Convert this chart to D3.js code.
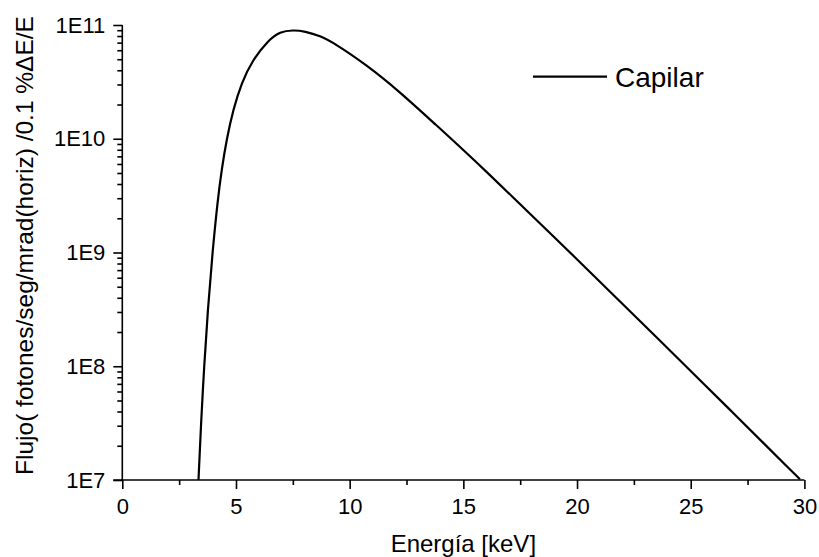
<!DOCTYPE html>
<html>
<head>
<meta charset="utf-8">
<script src="https://cdn.jsdelivr.net/npm/d3@7"></script>
<style>
  html, body { margin: 0; padding: 0; background: #fff; }
  svg { display: block; }
  text { font-family: "Liberation Sans", Arial, sans-serif; fill: #000; }
</style>
</head>
<body>
<svg id="chart" width="819" height="557"></svg>
<script>
// ---- data ----
const energy = [3.351, 3.470, 3.598, 3.760, 3.963, 4.196, 4.367, 4.592, 4.873, 5.243, 5.726, 6.430, 6.936, 7.508, 8.035, 8.695, 9.355, 10.749, 12.213, 13.678, 15.732, 20.130, 23.649, 26.582, 29.806];
const logFlux = [7.0, 7.527, 7.993, 8.495, 8.996, 9.462, 9.725, 9.998, 10.253, 10.490, 10.692, 10.868, 10.941, 10.956, 10.945, 10.905, 10.837, 10.648, 10.411, 10.143, 9.769, 8.916, 8.226, 7.646, 7.006];
const flux = logFlux.map(v => Math.pow(10, v));
const seriesName = "Capilar";
const xTicks = [0, 5, 10, 15, 20, 25, 30];
const xMinorTicks = [2.5, 7.5, 12.5, 17.5, 22.5, 27.5];
const yTicks = [1e7, 1e8, 1e9, 1e10, 1e11];
const yTickLabels = ["1E7", "1E8", "1E9", "1E10", "1E11"];
const xTitle = "Energía [keV]";
const yTitle = "Flujo( fotones/seg/mrad(horiz) /0.1 %ΔE/E";

// ---- layout ----
const svg = d3.select("#chart");
const mLeft = 122.3, mRight = 804.4, mTop = 25, mBottom = 480;

const x = d3.scaleLinear().domain([0, 30]).range([mLeft, mRight]);
const y = d3.scaleLog().domain([1e7, 1e11]).range([mBottom, mTop]);

const yMinor = [];
for (let e = 7; e < 11; e++) for (let m = 2; m <= 9; m++) yMinor.push(m * Math.pow(10, e));

const axisStroke = 1.6;

// X axis major
const gx = svg.append("g").attr("transform", `translate(0,${mBottom})`)
  .call(d3.axisBottom(x).tickValues(xTicks).tickSize(9).tickSizeOuter(0).tickPadding(9.5)
    .tickFormat(d3.format("d")));
gx.select(".domain").attr("stroke-width", axisStroke).attr("d", `M${mLeft - 9},0H${mRight}`);
gx.selectAll(".tick line").attr("stroke-width", axisStroke);
gx.selectAll(".tick text").attr("font-size", 22).attr("font-family", "Liberation Sans, Arial, sans-serif");
// X axis minor
svg.append("g").attr("transform", `translate(0,${mBottom})`)
  .call(d3.axisBottom(x).tickValues(xMinorTicks).tickSize(5).tickSizeOuter(0).tickFormat(""))
  .call(g => g.select(".domain").remove())
  .selectAll(".tick line").attr("stroke-width", axisStroke);

// Y axis major
const gy = svg.append("g").attr("transform", `translate(${mLeft},0)`)
  .call(d3.axisLeft(y).tickValues(yTicks).tickSize(9).tickSizeOuter(0).tickPadding(8)
    .tickFormat((d, i) => yTickLabels[i]));
gy.select(".domain").attr("stroke-width", axisStroke).attr("d", `M0,${mBottom}V${mTop}`);
gy.selectAll(".tick line").attr("stroke-width", axisStroke);
gy.selectAll(".tick text").attr("font-size", 22).attr("font-family", "Liberation Sans, Arial, sans-serif");
// Y axis minor
svg.append("g").attr("transform", `translate(${mLeft},0)`)
  .call(d3.axisLeft(y).tickValues(yMinor).tickSize(5).tickSizeOuter(0).tickFormat(""))
  .call(g => g.select(".domain").remove())
  .selectAll(".tick line").attr("stroke-width", axisStroke);

// curve
const pts = energy.map((e, i) => [e, flux[i]]);
svg.append("path")
  .datum(pts)
  .attr("fill", "none")
  .attr("stroke", "#000")
  .attr("stroke-width", 2.2)
  .attr("stroke-linejoin", "round")
  .attr("d", d3.line().x(d => x(d[0])).y(d => y(d[1])).curve(d3.curveBasis));

// axis titles
svg.append("text")
  .attr("x", (mLeft + mRight) / 2).attr("y", 552)
  .attr("text-anchor", "middle").attr("font-size", 24)
  .text(xTitle);
svg.append("text")
  .attr("transform", `translate(33,245.5) rotate(-90)`)
  .attr("text-anchor", "middle").attr("font-size", 24.5)
  .text(yTitle);

// legend
const lg = svg.append("g");
lg.append("line").attr("x1", 533).attr("x2", 607).attr("y1", 76.7).attr("y2", 76.7)
  .attr("stroke", "#000").attr("stroke-width", 2.2);
lg.append("text").attr("x", 615).attr("y", 86.7).attr("font-size", 28).text(seriesName);
</script>
</body>
</html>
